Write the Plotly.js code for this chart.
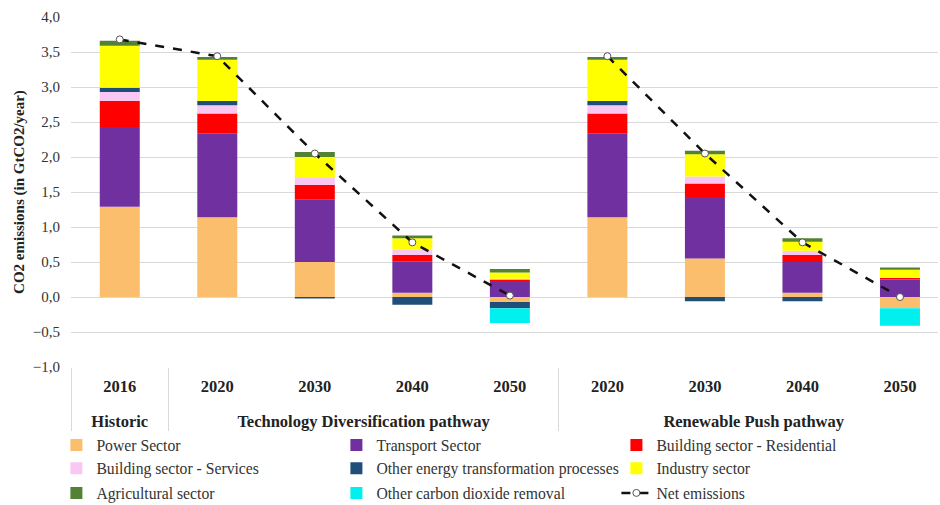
<!DOCTYPE html>
<html>
<head>
<meta charset="utf-8">
<script src="https://cdn.plot.ly/plotly-3.0.1.min.js"></script>
<style>
  html, body { margin: 0; padding: 0; background: #fff; }
  #chart { width: 940px; height: 505px; }
</style>
</head>
<body>
<div id="chart"></div>
<script>
// category labels (outer group, inner year)
var groups = ['Historic',
  'Technology Diversification pathway', 'Technology Diversification pathway',
  'Technology Diversification pathway', 'Technology Diversification pathway',
  'Renewable Push pathway', 'Renewable Push pathway',
  'Renewable Push pathway', 'Renewable Push pathway'];
var years = ['2016', '2020', '2030', '2040', '2050', '2020', '2030', '2040', '2050'];

// sector emissions, GtCO2/year
var power       = [1.29, 1.14, 0.50, 0.06, -0.07, 1.14, 0.55, 0.06, -0.16];
var transport   = [1.14, 1.20, 0.89, 0.45, 0.23, 1.20, 0.88, 0.44, 0.25];
var residential = [0.37, 0.28, 0.21, 0.09, 0.02, 0.28, 0.19, 0.10, 0.02];
var services    = [0.13, 0.12, 0.10, 0.08, 0.01, 0.12, 0.10, 0.06, 0.01];
var otherEnergy = [0.06, 0.06, -0.02, -0.11, -0.09, 0.06, -0.06, -0.06, 0];
var industry    = [0.60, 0.59, 0.30, 0.16, 0.09, 0.59, 0.32, 0.13, 0.11];
var agri        = [0.07, 0.04, 0.07, 0.04, 0.05, 0.04, 0.05, 0.05, 0.03];
var cdr         = [0, 0, 0, 0, -0.21, 0, 0, 0, -0.25];

// net emissions, one line per pathway
var netTD = [3.68, 3.44, 2.05, 0.78, 0.02];
var netRP = [3.44, 2.05, 0.78, 0.00];

var font = '"Liberation Serif", "Times New Roman", serif';

// group labels sit a line lower than the years
var groupText = groups.map(function(g) { return '<br>' + g; });
var xcat = [groupText, years];

function bar(name, y, color, leg) {
  return {
    type: 'bar',
    name: name,
    x: xcat,
    y: y,
    legend: leg,
    marker: { color: color },
    hoverinfo: 'name+y'
  };
}

var data = [
  bar('Power Sector', power, '#FBBE6C', 'legend'),
  bar('Transport Sector', transport, '#7030A0', 'legend'),
  bar('Building sector - Residential', residential, '#FF0000', 'legend'),
  bar('Building sector - Services', services, '#F8C8F2', 'legend2'),
  bar('Other energy transformation processes', otherEnergy, '#1F4E79', 'legend2'),
  bar('Industry sector', industry, '#FFFF00', 'legend2'),
  bar('Agricultural sector', agri, '#548235', 'legend3'),
  bar('Other carbon dioxide removal', cdr, '#00F0F0', 'legend3')
];

var netStyle = {
  type: 'scatter',
  mode: 'lines+markers',
  line: { color: '#111', width: 2.5, dash: 'dash' },
  marker: { symbol: 'circle', size: 7, color: '#fff', line: { color: '#555', width: 1 } },
  legend: 'legend3',
  legendgroup: 'net'
};

data.push(Object.assign({}, netStyle, {
  name: 'Net emissions',
  x: [groupText.slice(0, 5), years.slice(0, 5)],
  y: netTD
}));
data.push(Object.assign({}, netStyle, {
  name: 'Net emissions',
  showlegend: false,
  x: [groupText.slice(5), years.slice(5)],
  y: netRP
}));

function legendRow(y) {
  return {
    orientation: 'h',
    xref: 'container',
    yref: 'container',
    x: 0.06,
    y: y,
    xanchor: 'left',
    yanchor: 'top',
    entrywidth: 235,
    entrywidthmode: 'pixels',
    traceorder: 'normal',
    bgcolor: 'rgba(0,0,0,0)',
    font: { family: font, size: 15.7, color: '#333' }
  };
}

var layout = {
  width: 940,
  height: 505,
  margin: { l: 71, r: 2, t: 17, b: 138 },
  paper_bgcolor: '#fff',
  plot_bgcolor: '#fff',
  separators: ', ',
  barmode: 'relative',
  bargap: 0.59,
  font: { family: font, size: 15, color: '#222' },
  xaxis: {
    type: 'multicategory',
    range: [-0.5, 8.39],
    tickfont: { family: font, size: 16.5, color: '#222', weight: 'bold' },
    ticklabelstandoff: 7,
    showgrid: false,
    showline: false,
    ticks: '',
    showdividers: true,
    dividercolor: '#d9d9d9',
    dividerwidth: 1
  },
  yaxis: {
    range: [-1, 4],
    dtick: 0.5,
    tickformat: '.1f',
    gridcolor: '#d9d9d9',
    zeroline: false,
    ticklabelstandoff: 10,
    tickfont: { family: font, size: 15, color: '#333' },
    title: {
      text: 'CO2 emissions (in GtCO2/year)',
      font: { family: font, size: 15, color: '#222', weight: 'bold' },
      standoff: 4
    }
  },
  showlegend: true,
  legend: legendRow(0.152),
  legend2: legendRow(0.106),
  legend3: legendRow(0.057)
};

Plotly.newPlot('chart', data, layout, { displayModeBar: false, staticPlot: true });
</script>
</body>
</html>
